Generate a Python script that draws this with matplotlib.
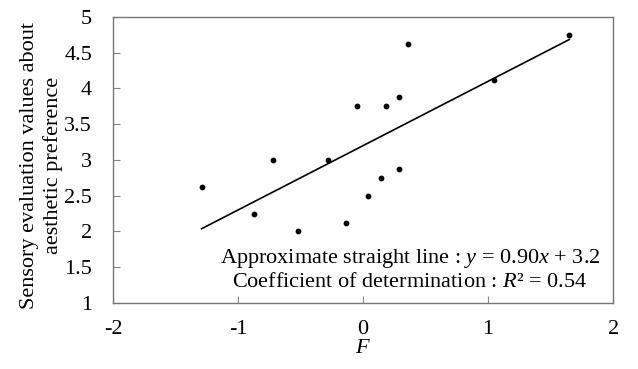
import numpy as np
import matplotlib
matplotlib.use("Agg")
from matplotlib import pyplot as plt

plt.rcParams['font.family'] = ['Liberation Serif', 'DejaVu Serif']
plt.rcParams['mathtext.fontset'] = 'custom'
plt.rcParams['mathtext.it'] = 'Liberation Serif:italic'
plt.rcParams['mathtext.rm'] = 'Liberation Serif'
plt.rcParams['axes.unicode_minus'] = False

# F values and sensory evaluation values
F = [-1.29, -0.87, -0.72, -0.52, -0.28, -0.14, -0.05, 0.04, 0.14,
     0.18, 0.29, 0.29, 0.36, 1.05, 1.65]
score = [2.625, 2.25, 3.0, 2.0, 3.0, 2.125, 3.75, 2.5, 2.75,
         3.75, 3.875, 2.875, 4.625, 4.125, 4.75]

# approximate straight line
slope = 0.90
intercept = 3.2

fig = plt.figure(figsize=(6.38, 3.69), dpi=100)
ax = fig.add_axes([0.177, 0.179, 0.784, 0.775])

ax.scatter(F, score, s=10, color='black', zorder=3)
xl = np.array([min(F), max(F)])
ax.plot(xl, slope * xl + intercept, color='black', lw=1.2)

ax.set_xlim(-2, 2)
ax.set_ylim(1, 5)
ax.set_xticks([-2, -1, 0, 1, 2])
ax.set_xticklabels(['-2', '-1', '0', '1', '2'])
ax.set_yticks([1, 1.5, 2, 2.5, 3, 3.5, 4, 4.5, 5])
ax.set_yticklabels(['1', '1.5', '2', '2.5', '3', '3.5', '4', '4.5', '5'])
ax.tick_params(direction='in', length=5, color='#888888', labelsize=16)
ax.tick_params(axis='y', pad=15)
ax.tick_params(axis='x', pad=12)
for s in ax.spines.values():
    s.set_color('#777777')
    s.set_linewidth(1.0)

ax.set_xlabel('$F$', fontsize=16, labelpad=0)
ax.set_ylabel('Sensory evaluation values about\naesthetic preference',
              fontsize=16, linespacing=1.3)
ax.yaxis.set_label_coords(-0.10, 0.48)

ax.text(0.594, 0.14, 'Approximate straight line : $y$ = 0.90$x$ + 3.2',
        transform=ax.transAxes, ha='center', va='baseline', fontsize=16)
ax.text(0.594, 0.056, 'Coefficient of determination : $R$² = 0.54',
        transform=ax.transAxes, ha='center', va='baseline', fontsize=16)

plt.savefig("out.png", dpi=100)
